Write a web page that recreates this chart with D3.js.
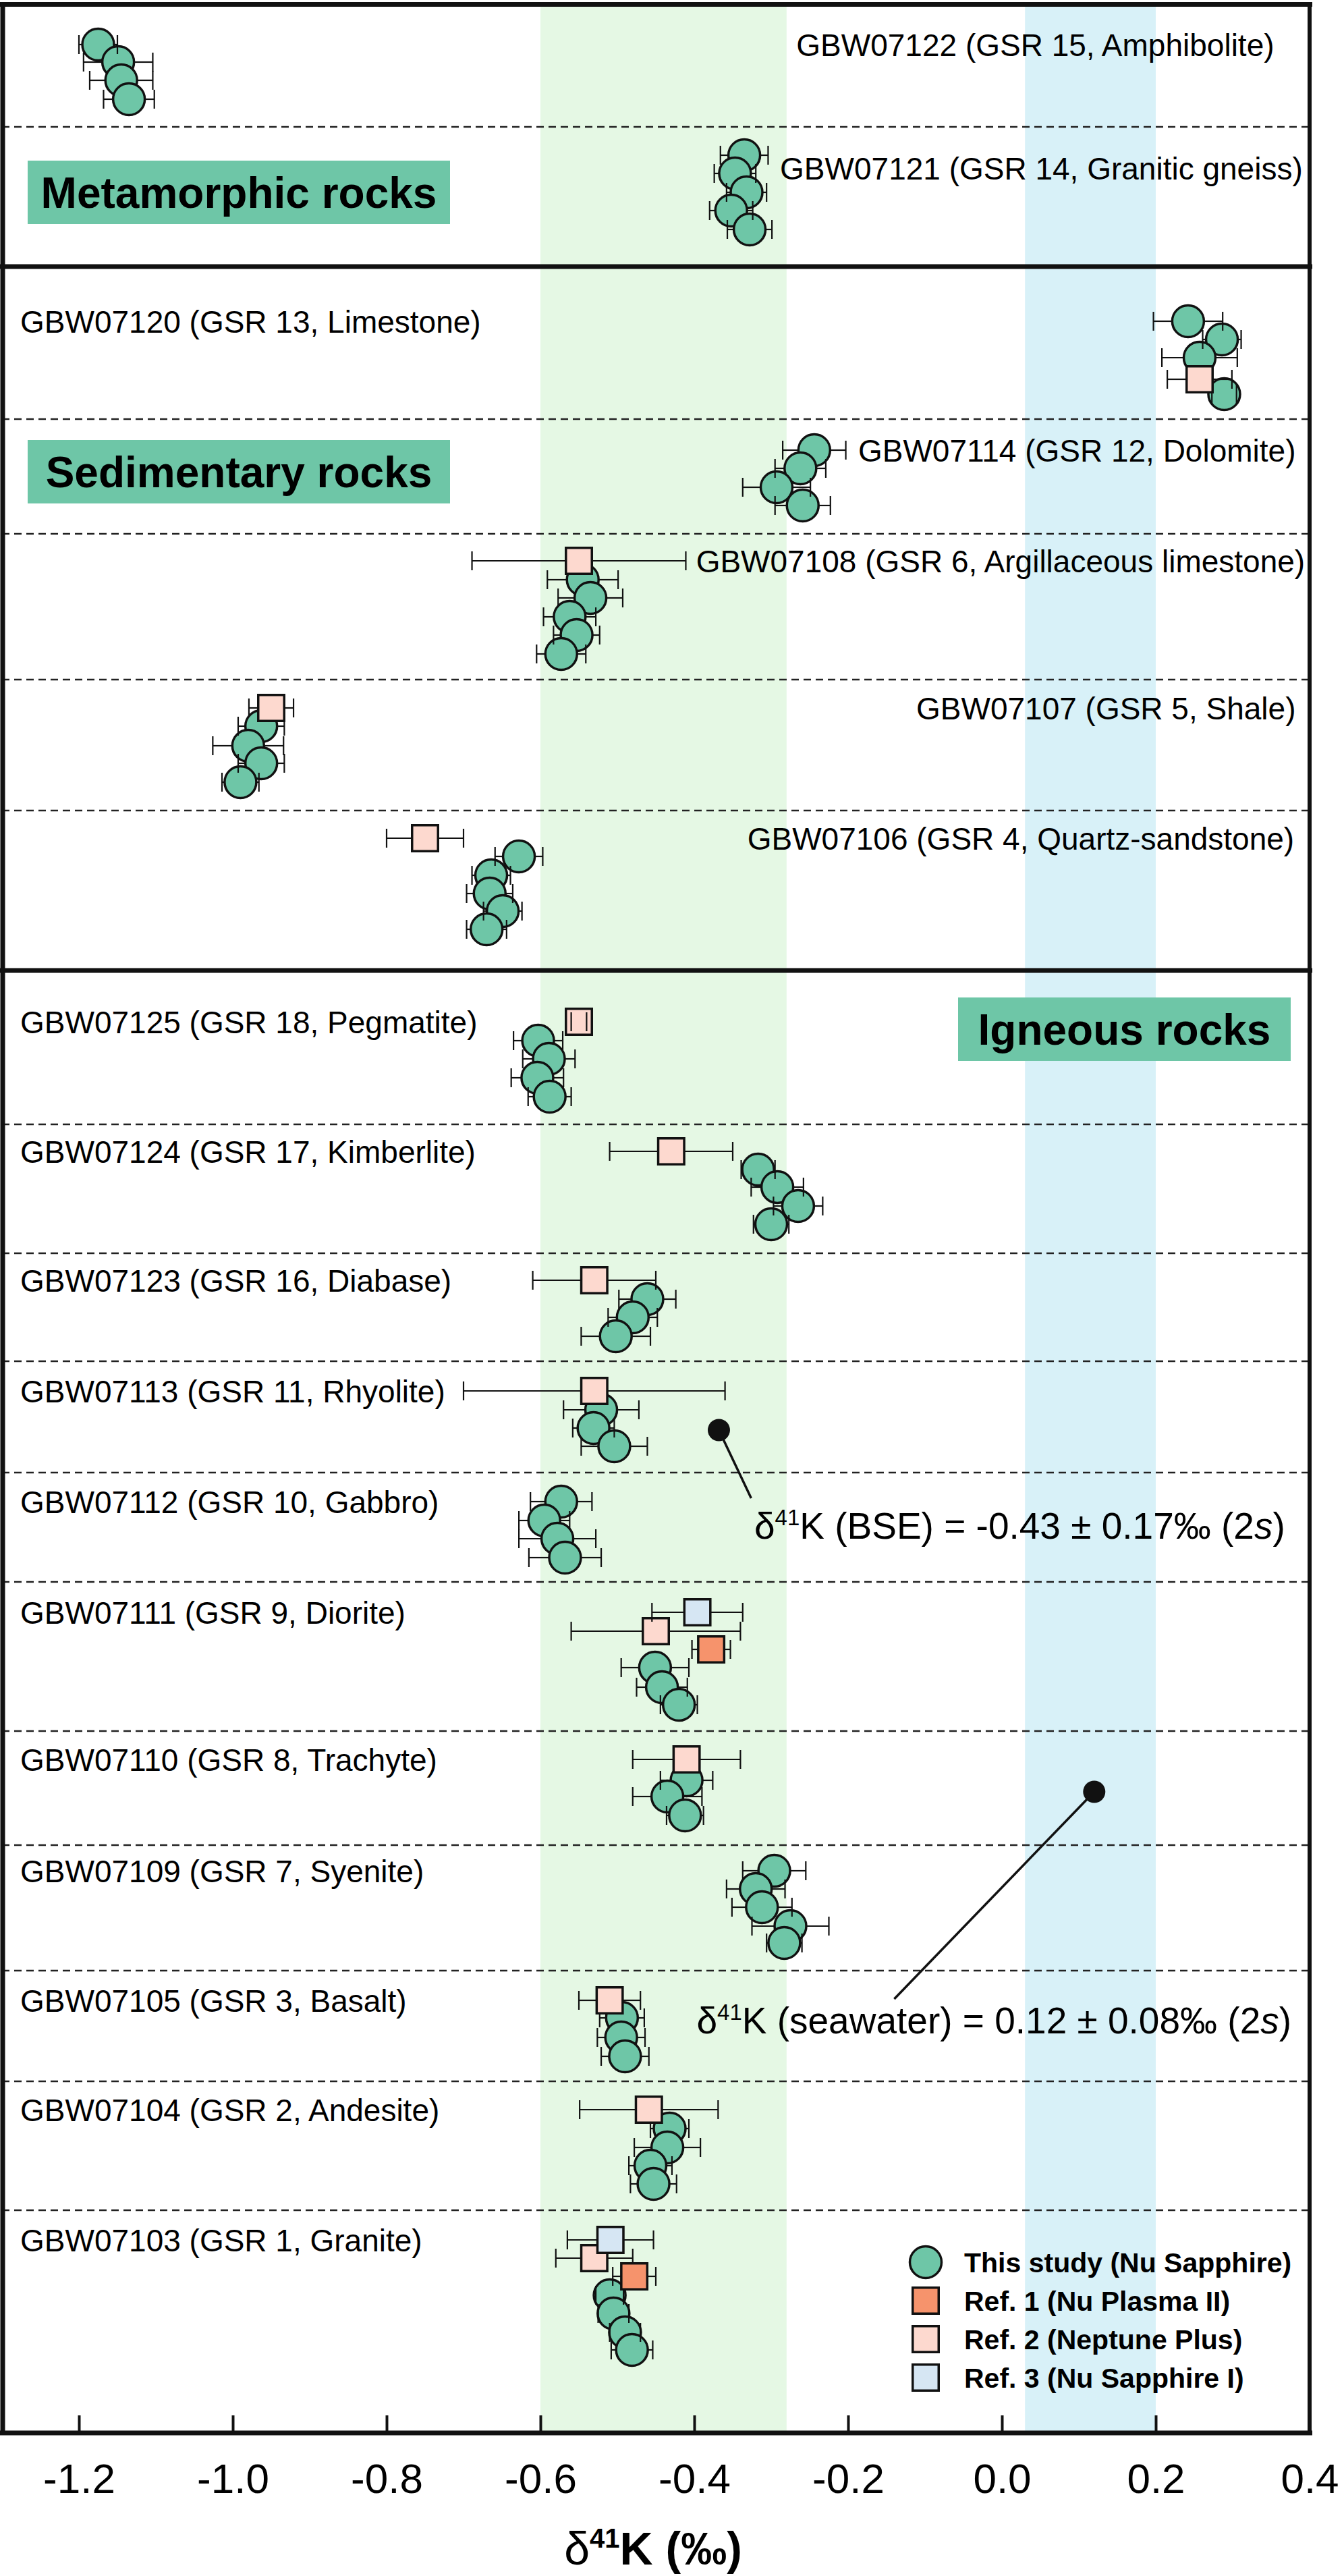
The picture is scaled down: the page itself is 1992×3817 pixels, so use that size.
<!DOCTYPE html>
<html>
<head>
<meta charset="utf-8">
<script src="https://cdn.jsdelivr.net/npm/d3@7"></script>
<style>
  body { margin: 0; background: #fff; }
  svg { display: block; }
  text { font-family: "Liberation Sans", Arial, Helvetica, sans-serif; fill: #000; }
</style>
</head>
<body>
<svg id="chart" width="1992" height="3817"></svg>
<script>
// ---- data ----
var samples = ['GBW07122', 'GBW07121', 'GBW07120', 'GBW07114', 'GBW07108', 'GBW07107', 'GBW07106',
  'GBW07125', 'GBW07124', 'GBW07123', 'GBW07113', 'GBW07112', 'GBW07111', 'GBW07110', 'GBW07109',
  'GBW07105', 'GBW07104', 'GBW07103']
var sampleInfo = ['GSR 15, Amphibolite', 'GSR 14, Granitic gneiss', 'GSR 13, Limestone', 'GSR 12, Dolomite',
  'GSR 6, Argillaceous limestone', 'GSR 5, Shale', 'GSR 4, Quartz-sandstone', 'GSR 18, Pegmatite',
  'GSR 17, Kimberlite', 'GSR 16, Diabase', 'GSR 11, Rhyolite', 'GSR 10, Gabbro', 'GSR 9, Diorite',
  'GSR 8, Trachyte', 'GSR 7, Syenite', 'GSR 3, Basalt', 'GSR 2, Andesite', 'GSR 1, Granite']

// hidden vertical position axis (0 = top, 360 = bottom)
var rowEdges = [0, 18.3, 39, 61.6, 78.6, 100.2, 119.6, 143.3, 166.1, 185.2, 201.2, 217.7, 233.9, 256, 272.9, 291.5, 307.9, 327, 360]
var sectionEdges = [39, 143.3]
var sections = ['Metamorphic rocks', 'Sedimentary rocks', 'Igneous rocks']

var xTicks = [-1.2, -1.0, -0.8, -0.6, -0.4, -0.2, 0.0, 0.2, 0.4]
var bseRange = [-0.6, -0.28]
var seawaterRange = [0.03, 0.2]

// [sample, d41K, 2s, position]
var thisStudy = [
  ['GBW07122', -1.175, 0.025, 6.1], ['GBW07122', -1.149, 0.045, 8.7], ['GBW07122', -1.145, 0.041, 11.4], ['GBW07122', -1.135, 0.033, 14.2],
  ['GBW07121', -0.335, 0.031, 22.5], ['GBW07121', -0.347, 0.027, 25.2], ['GBW07121', -0.332, 0.026, 28.0], ['GBW07121', -0.352, 0.028, 30.7], ['GBW07121', -0.328, 0.029, 33.5],
  ['GBW07120', 0.242, 0.045, 47.1], ['GBW07120', 0.286, 0.025, 49.8], ['GBW07120', 0.257, 0.049, 52.5], ['GBW07120', 0.289, 0.016, 57.9],
  ['GBW07114', -0.244, 0.041, 66.2], ['GBW07114', -0.262, 0.033, 68.9], ['GBW07114', -0.293, 0.044, 71.7], ['GBW07114', -0.259, 0.036, 74.4],
  ['GBW07108', -0.545, 0.046, 85.4], ['GBW07108', -0.535, 0.042, 88.1], ['GBW07108', -0.562, 0.034, 90.9], ['GBW07108', -0.553, 0.030, 93.6], ['GBW07108', -0.573, 0.032, 96.4],
  ['GBW07107', -0.963, 0.030, 107.1], ['GBW07107', -0.980, 0.046, 110.0], ['GBW07107', -0.963, 0.030, 112.6], ['GBW07107', -0.990, 0.024, 115.4],
  ['GBW07106', -0.628, 0.031, 126.4], ['GBW07106', -0.664, 0.025, 129.2], ['GBW07106', -0.666, 0.030, 131.9], ['GBW07106', -0.649, 0.025, 134.5], ['GBW07106', -0.670, 0.026, 137.2],
  ['GBW07125', -0.603, 0.032, 153.7], ['GBW07125', -0.589, 0.034, 156.4], ['GBW07125', -0.604, 0.034, 159.2], ['GBW07125', -0.588, 0.028, 162.0],
  ['GBW07124', -0.317, 0.022, 172.8], ['GBW07124', -0.292, 0.034, 175.4], ['GBW07124', -0.265, 0.032, 178.2], ['GBW07124', -0.300, 0.023, 180.9],
  ['GBW07123', -0.461, 0.037, 192.0], ['GBW07123', -0.480, 0.032, 194.7], ['GBW07123', -0.502, 0.045, 197.5],
  ['GBW07113', -0.521, 0.049, 208.4], ['GBW07113', -0.531, 0.027, 211.1], ['GBW07113', -0.504, 0.043, 213.8],
  ['GBW07112', -0.573, 0.040, 222.0], ['GBW07112', -0.595, 0.033, 224.8], ['GBW07112', -0.578, 0.050, 227.5], ['GBW07112', -0.568, 0.047, 230.3],
  ['GBW07111', -0.451, 0.044, 246.6], ['GBW07111', -0.442, 0.033, 249.5], ['GBW07111', -0.420, 0.024, 252.1],
  ['GBW07110', -0.410, 0.034, 263.3], ['GBW07110', -0.435, 0.045, 265.7], ['GBW07110', -0.412, 0.024, 268.5],
  ['GBW07109', -0.296, 0.041, 276.7], ['GBW07109', -0.320, 0.038, 279.4], ['GBW07109', -0.312, 0.039, 282.1], ['GBW07109', -0.275, 0.050, 284.9], ['GBW07109', -0.283, 0.023, 287.4],
  ['GBW07105', -0.494, 0.029, 298.5], ['GBW07105', -0.495, 0.031, 301.4], ['GBW07105', -0.490, 0.031, 304.2],
  ['GBW07104', -0.432, 0.025, 314.9], ['GBW07104', -0.435, 0.043, 317.7], ['GBW07104', -0.457, 0.028, 320.4], ['GBW07104', -0.453, 0.030, 323.1],
  ['GBW07103', -0.510, 0.018, 339.6], ['GBW07103', -0.505, 0.020, 342.3], ['GBW07103', -0.490, 0.020, 345.1], ['GBW07103', -0.481, 0.027, 347.7]
]
var ref1 = [
  ['GBW07111', -0.378, 0.025, 243.9], ['GBW07103', -0.478, 0.028, 336.8]
]
var ref2 = [
  ['GBW07120', 0.257, 0.042, 55.7], ['GBW07108', -0.550, 0.139, 82.6], ['GBW07107', -0.950, 0.029, 104.4],
  ['GBW07106', -0.750, 0.050, 123.7], ['GBW07125', -0.550, 0.010, 150.9], ['GBW07124', -0.430, 0.080, 170.1],
  ['GBW07123', -0.530, 0.080, 189.2], ['GBW07113', -0.530, 0.170, 205.6], ['GBW07111', -0.450, 0.110, 241.2],
  ['GBW07110', -0.410, 0.070, 260.2], ['GBW07105', -0.510, 0.040, 295.9], ['GBW07104', -0.459, 0.090, 312.1],
  ['GBW07103', -0.530, 0.050, 334.1]
]
var ref3 = [
  ['GBW07111', -0.396, 0.059, 238.4], ['GBW07103', -0.509, 0.056, 331.4]
]
var legendNames = ['This study (Nu Sapphire)', 'Ref. 1 (Nu Plasma II)', 'Ref. 2 (Neptune Plus)', 'Ref. 3 (Nu Sapphire I)']

// ---- layout / style ----
var teal = '#6ec6a7', colRef1 = '#f6936c', colRef2 = '#fdd9cf', colRef3 = '#d6e6f3'
var R = 23.5, SQ = 38.5, CAP = 14
var rightLabels = { GBW07122: 0.354, GBW07121: 0.391, GBW07114: 0.382, GBW07108: 0.394, GBW07107: 0.382, GBW07106: 0.380 }
var labelShift = { GBW07121: 1.9 }
var sectionBoxes = [
  { x0: 41, w: 626, pos: 28.0 },
  { x0: 41, w: 626, pos: 69.4 },
  { x0: 1420, w: 493, pos: 152.0 }
]

var svg = d3.select('#chart')
var x = d3.scaleLinear().domain([-1.3, 0.4]).range([3, 1941])
var y = d3.scaleLinear().domain([0, 360]).range([5, 3605])

// reference bands
svg.selectAll('rect.band')
  .data([{ r: bseRange, c: '#e5f8e4' }, { r: seawaterRange, c: '#d8f1f8' }])
  .enter().append('rect')
  .attr('class', 'band')
  .attr('x', function(d) { return x(d.r[0]) })
  .attr('width', function(d) { return x(d.r[1]) - x(d.r[0]) })
  .attr('y', y(0))
  .attr('height', y(360) - y(0))
  .attr('fill', function(d) { return d.c })

// dashed row separators
var dashed = rowEdges.slice(1, -1).filter(function(e) { return sectionEdges.indexOf(e) < 0 })
svg.selectAll('line.row')
  .data(dashed)
  .enter().append('line')
  .attr('x1', x(-1.3)).attr('x2', x(0.4))
  .attr('y1', function(d) { return y(d) }).attr('y2', function(d) { return y(d) })
  .attr('stroke', '#222').attr('stroke-width', 2.5).attr('stroke-dasharray', '11,7')

// section separators and frame
svg.selectAll('line.sec')
  .data(sectionEdges)
  .enter().append('line')
  .attr('x1', 0).attr('x2', 1945)
  .attr('y1', function(d) { return y(d) }).attr('y2', function(d) { return y(d) })
  .attr('stroke', '#111').attr('stroke-width', 7)
svg.append('line').attr('x1', 0).attr('x2', 1945).attr('y1', y(0) + 1.5).attr('y2', y(0) + 1.5)
  .attr('stroke', '#111').attr('stroke-width', 7)
svg.append('line').attr('x1', 4).attr('x2', 4).attr('y1', y(0)).attr('y2', y(360))
  .attr('stroke', '#111').attr('stroke-width', 7)
svg.append('line').attr('x1', 1941).attr('x2', 1941).attr('y1', y(0)).attr('y2', y(360))
  .attr('stroke', '#111').attr('stroke-width', 6)

// section boxes
sections.forEach(function(name, i) {
  var b = sectionBoxes[i], cy = y(b.pos)
  svg.append('rect').attr('x', b.x0).attr('y', cy - 47).attr('width', b.w).attr('height', 94).attr('fill', teal)
  svg.append('text').attr('x', b.x0 + b.w / 2).attr('y', cy + 23)
    .attr('text-anchor', 'middle').attr('font-size', 64).attr('font-weight', 'bold').text(name)
})

// sample labels
samples.forEach(function(s, i) {
  var first = thisStudy.concat(ref1, ref2, ref3).filter(function(p) { return p[0] === s })
    .sort(function(a, b) { return a[3] - b[3] })[0]
  var pos = first[3] + (labelShift[s] || 0)
  var t = svg.append('text').attr('y', y(pos) + 16.5).attr('font-size', 46).text(s + ' (' + sampleInfo[i] + ')')
  if (rightLabels[s] !== undefined) t.attr('x', x(rightLabels[s])).attr('text-anchor', 'end')
  else t.attr('x', 30)
})

function errorBars(data, half) {
  var g = svg.append('g').attr('stroke', '#111').attr('stroke-width', 2.2)
  data.forEach(function(d) {
    var cx = x(d[1]), cy = y(d[3]), lo = x(d[1] - d[2]), hi = x(d[1] + d[2])
    if (cx - lo > half) {
      g.append('line').attr('x1', lo).attr('x2', cx - half).attr('y1', cy).attr('y2', cy)
      g.append('line').attr('x1', cx + half).attr('x2', hi).attr('y1', cy).attr('y2', cy)
    }
    ;[lo, hi].forEach(function(px) {
      g.append('line').attr('x1', px).attr('x2', px).attr('y1', cy - CAP).attr('y2', cy + CAP)
    })
  })
}

// this study circles
svg.append('g').selectAll('circle')
  .data(thisStudy)
  .enter().append('circle')
  .attr('cx', function(d) { return x(d[1]) })
  .attr('cy', function(d) { return y(d[3]) })
  .attr('r', R)
  .attr('fill', teal).attr('stroke', '#111').attr('stroke-width', 3.5)
errorBars(thisStudy, R)

// reference squares
;[[ref2, colRef2], [ref3, colRef3], [ref1, colRef1]].forEach(function(s) {
  svg.append('g').selectAll('rect')
    .data(s[0])
    .enter().append('rect')
    .attr('x', function(d) { return x(d[1]) - SQ / 2 })
    .attr('y', function(d) { return y(d[3]) - SQ / 2 })
    .attr('width', SQ).attr('height', SQ)
    .attr('fill', s[1]).attr('stroke', '#111').attr('stroke-width', 3.5)
  errorBars(s[0], SQ / 2)
})

// annotations
function deltaText(tx, ty, rest) {
  var t = svg.append('text').attr('x', tx).attr('y', ty).attr('font-size', 55)
  t.append('tspan').text('\u03b4')
  t.append('tspan').attr('font-size', 33).attr('dy', -20).text('41')
  t.append('tspan').attr('dy', 20).text('K (' + rest[0] + ') = ' + rest[1] + '\u2030 (2')
  t.append('tspan').attr('font-style', 'italic').text('s')
  t.append('tspan').text(')')
}
var notes = [
  { dot: [-0.368, 211.4], end: [-0.326, 221.5], at: [-0.322, 227.5], txt: ['BSE', '-0.43 \u00b1 0.17'] },
  { dot: [0.12, 265.0], end: [-0.140, 295.7], at: [-0.397, 300.8], txt: ['seawater', '0.12 \u00b1 0.08'] }
]
notes.forEach(function(n) {
  svg.append('line').attr('x1', x(n.dot[0])).attr('y1', y(n.dot[1])).attr('x2', x(n.end[0])).attr('y2', y(n.end[1]))
    .attr('stroke', '#111').attr('stroke-width', 3.5)
  svg.append('circle').attr('cx', x(n.dot[0])).attr('cy', y(n.dot[1])).attr('r', 16.5).attr('fill', '#111')
  deltaText(x(n.at[0]), y(n.at[1]), n.txt)
})

// legend
var legend = svg.append('g')
legendNames.forEach(function(name, i) {
  var cy = 3352 + i * 57, cx = 1372
  if (i === 0) {
    legend.append('circle').attr('cx', cx).attr('cy', cy).attr('r', R)
      .attr('fill', teal).attr('stroke', '#111').attr('stroke-width', 3.5)
  } else {
    legend.append('rect').attr('x', cx - SQ / 2).attr('y', cy - SQ / 2).attr('width', SQ).attr('height', SQ)
      .attr('fill', [colRef1, colRef2, colRef3][i - 1]).attr('stroke', '#111').attr('stroke-width', 3.5)
  }
  legend.append('text').attr('x', 1429).attr('y', cy + 14.5)
    .attr('font-size', 41).attr('font-weight', 'bold').text(name)
})

// x axis
var axis = d3.axisBottom(x).tickValues(xTicks).tickSize(-26).tickPadding(45)
  .tickFormat(function(d) { return d.toFixed(1) })
var gx = svg.append('g').attr('transform', 'translate(0,' + y(360) + ')').call(axis)
gx.select('.domain').remove()
gx.selectAll('.tick line').attr('stroke', '#111').attr('stroke-width', 4)
gx.selectAll('.tick text').attr('font-size', 62).attr('fill', '#000')
  .attr('font-family', '"Liberation Sans", Arial, Helvetica, sans-serif')
svg.append('line').attr('x1', 0).attr('x2', 1945).attr('y1', y(360)).attr('y2', y(360))
  .attr('stroke', '#111').attr('stroke-width', 7)

var title = svg.append('text').attr('x', 968).attr('y', 3800).attr('text-anchor', 'middle')
  .attr('font-size', 68).attr('font-weight', 'bold')
title.append('tspan').attr('font-weight', 'normal').text('\u03b4')
title.append('tspan').attr('font-size', 40).attr('dy', -25).text('41')
title.append('tspan').attr('dy', 25).text('K (\u2030)')
</script>
</body>
</html>
